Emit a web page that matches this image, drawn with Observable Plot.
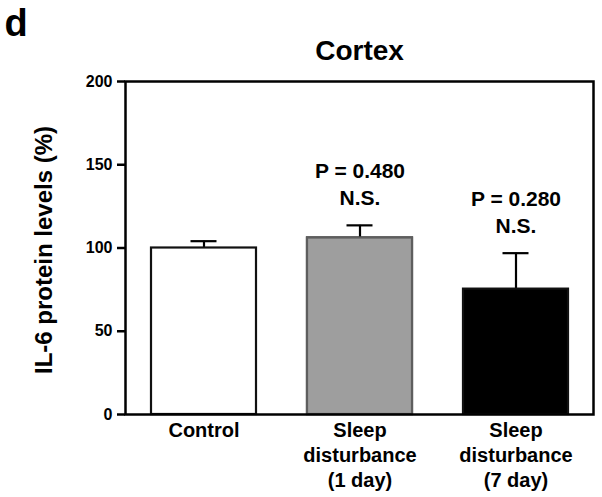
<!DOCTYPE html>
<html>
<head>
<meta charset="utf-8">
<script src="https://cdn.jsdelivr.net/npm/d3@7"></script>
<script src="https://cdn.jsdelivr.net/npm/@observablehq/plot@0.6"></script>
<style>
  html, body { margin: 0; padding: 0; background: #fff; }
  #chart svg { display: block; }
</style>
</head>
<body>
<div id="chart"></div>
<script>
const categories = ["Control", "Sleep disturbance (1 day)", "Sleep disturbance (7 day)"];
const tickLabels = ["Control", "Sleep\ndisturbance\n(1 day)", "Sleep\ndisturbance\n(7 day)"];
const means = [100, 106, 75.3];
const sems = [4.1, 7.6, 21.6];
const pLabels = ["", "P = 0.480\nN.S.", "P = 0.280\nN.S."];
const yTicks = [0, 50, 100, 150, 200];
const panelLetter = "d";
const title = "Cortex";
const yLabel = "IL-6 protein levels (%)";

const data = categories.map((c, i) => ({category: c, mean: means[i], sem: sems[i], top: means[i] + sems[i], p: pLabels[i]}));
const FONT = "'Liberation Sans', Arial, Helvetica, sans-serif";

const chart = Plot.plot({
  width: 602,
  height: 497,
  marginLeft: 125,
  marginRight: 9,
  marginTop: 81,
  marginBottom: 83,
  style: {fontFamily: FONT, background: "#fff", overflow: "visible"},
  x: {domain: categories, paddingInner: 0.33, paddingOuter: 0.165},
  y: {domain: [0, 200]},
  color: {domain: categories, range: ["#ffffff", "#9e9e9e", "#000000"]},
  marks: [
    Plot.ruleX(data, {x: "category", y1: "mean", y2: "top", stroke: "#000", strokeWidth: 2.2}),
    Plot.tickY(data, {x: "category", y: "top", stroke: "#000", strokeWidth: 2.2, insetLeft: 39.5, insetRight: 39.5}),
    Plot.barY(data, {x: "category", y: "mean", fill: "category", stroke: "#111", strokeWidth: 2.2}),
    Plot.barY(data.filter(d => d.category === categories[1]), {x: "category", y: "mean", fill: "#9e9e9e", stroke: "#5e5e5e", strokeWidth: 2.2}),
    Plot.frame({stroke: "#000", strokeWidth: 2.5}),
    Plot.axisY({ticks: yTicks, tickSize: 8, tickPadding: 5, strokeWidth: 2.5, fontSize: 16, fontWeight: "bold", fill: "#000", label: null}),
    Plot.axisX({tickSize: 0, tickPadding: 5, tickFormat: (d) => tickLabels[categories.indexOf(d)], fontSize: 20, fontWeight: "bold", lineHeight: 1.25, fill: "#000", label: null}),
    Plot.text(data.filter(d => d.p), {x: "category", y: "top", text: "p", dy: -20, lineAnchor: "bottom", lineHeight: 1.31, fontSize: 21, fontWeight: "bold", fill: "#000"}),
    Plot.text([title], {frameAnchor: "top", text: d => d, lineAnchor: "top", dy: -41.6, fontSize: 28, fontWeight: "bold", fill: "#000"}),
    Plot.text([yLabel], {frameAnchor: "left", text: d => d, rotate: -90, textAnchor: "middle", lineAnchor: "middle", dx: -81, dy: 2, fontSize: 24, fontWeight: "bold", fill: "#000"}),
    Plot.text([panelLetter], {frameAnchor: "top-left", text: d => d, textAnchor: "start", lineAnchor: "top", dx: -121, dy: -72, fontSize: 38, fontWeight: "bold", fill: "#000"})
  ]
});
document.getElementById("chart").appendChild(chart);
</script>
</body>
</html>
